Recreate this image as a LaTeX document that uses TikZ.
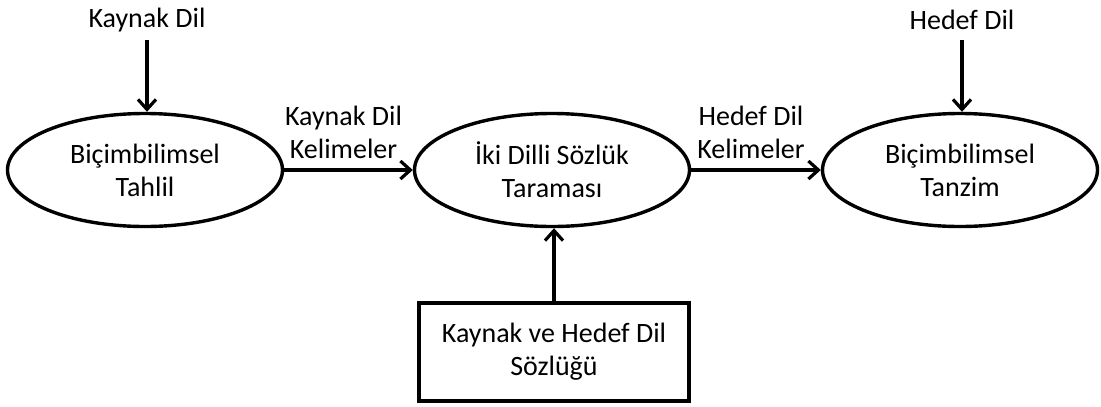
\documentclass[tikz,border=0pt]{standalone}
\usepackage{fontspec}
\setmainfont{Carlito}
\usetikzlibrary{shapes.geometric,arrows.meta}
\begin{document}
\begin{tikzpicture}[x=1pt,y=-1pt,
  every node/.style={font=\fontsize{28}{33}\selectfont, align=center, inner sep=0pt},
  proc/.style={draw, ellipse, line width=3.4pt, minimum width=275pt, minimum height=113pt},
  store/.style={draw, rectangle, line width=3.4pt, minimum width=270pt, minimum height=98pt},
  flow/.style={line width=3.4pt, -{Straight Barb[length=10pt,width=18pt,line width=3.2pt]}},
  lbl/.style={above=10pt, xshift=-5pt}]
\useasboundingbox (0,0) rectangle (1101,407);
\node[proc] (bt) at (145,170) {Biçimbilimsel\\Tahlil};
\node[proc] (ik) at (552,170) {İki Dilli Sözlük\\Taraması};
\node[proc] (bz) at (960,170) {Biçimbilimsel\\Tanzim};
\node[store] (sz) at (554,352) {Kaynak ve Hedef Dil\\Sözlüğü};
\node (kd) at (147,20) {Kaynak Dil};
\node (hd) at (962,20) {Hedef Dil};
\coordinate (kda) at (147,40);
\coordinate (hda) at (962,40);
\draw[flow] (kda) -- (bt.north -| kda);
\draw[flow] (hda) -- (bz.north -| hda);
\draw[flow] (bt.east) -- node[lbl] {Kaynak Dil\\Kelimeler} (ik.west);
\draw[flow] (ik.east) -- node[lbl] {Hedef Dil\\Kelimeler} (bz.west);
\draw[flow] (sz.north) -- (sz.north |- ik.south);
\end{tikzpicture}
\end{document}
